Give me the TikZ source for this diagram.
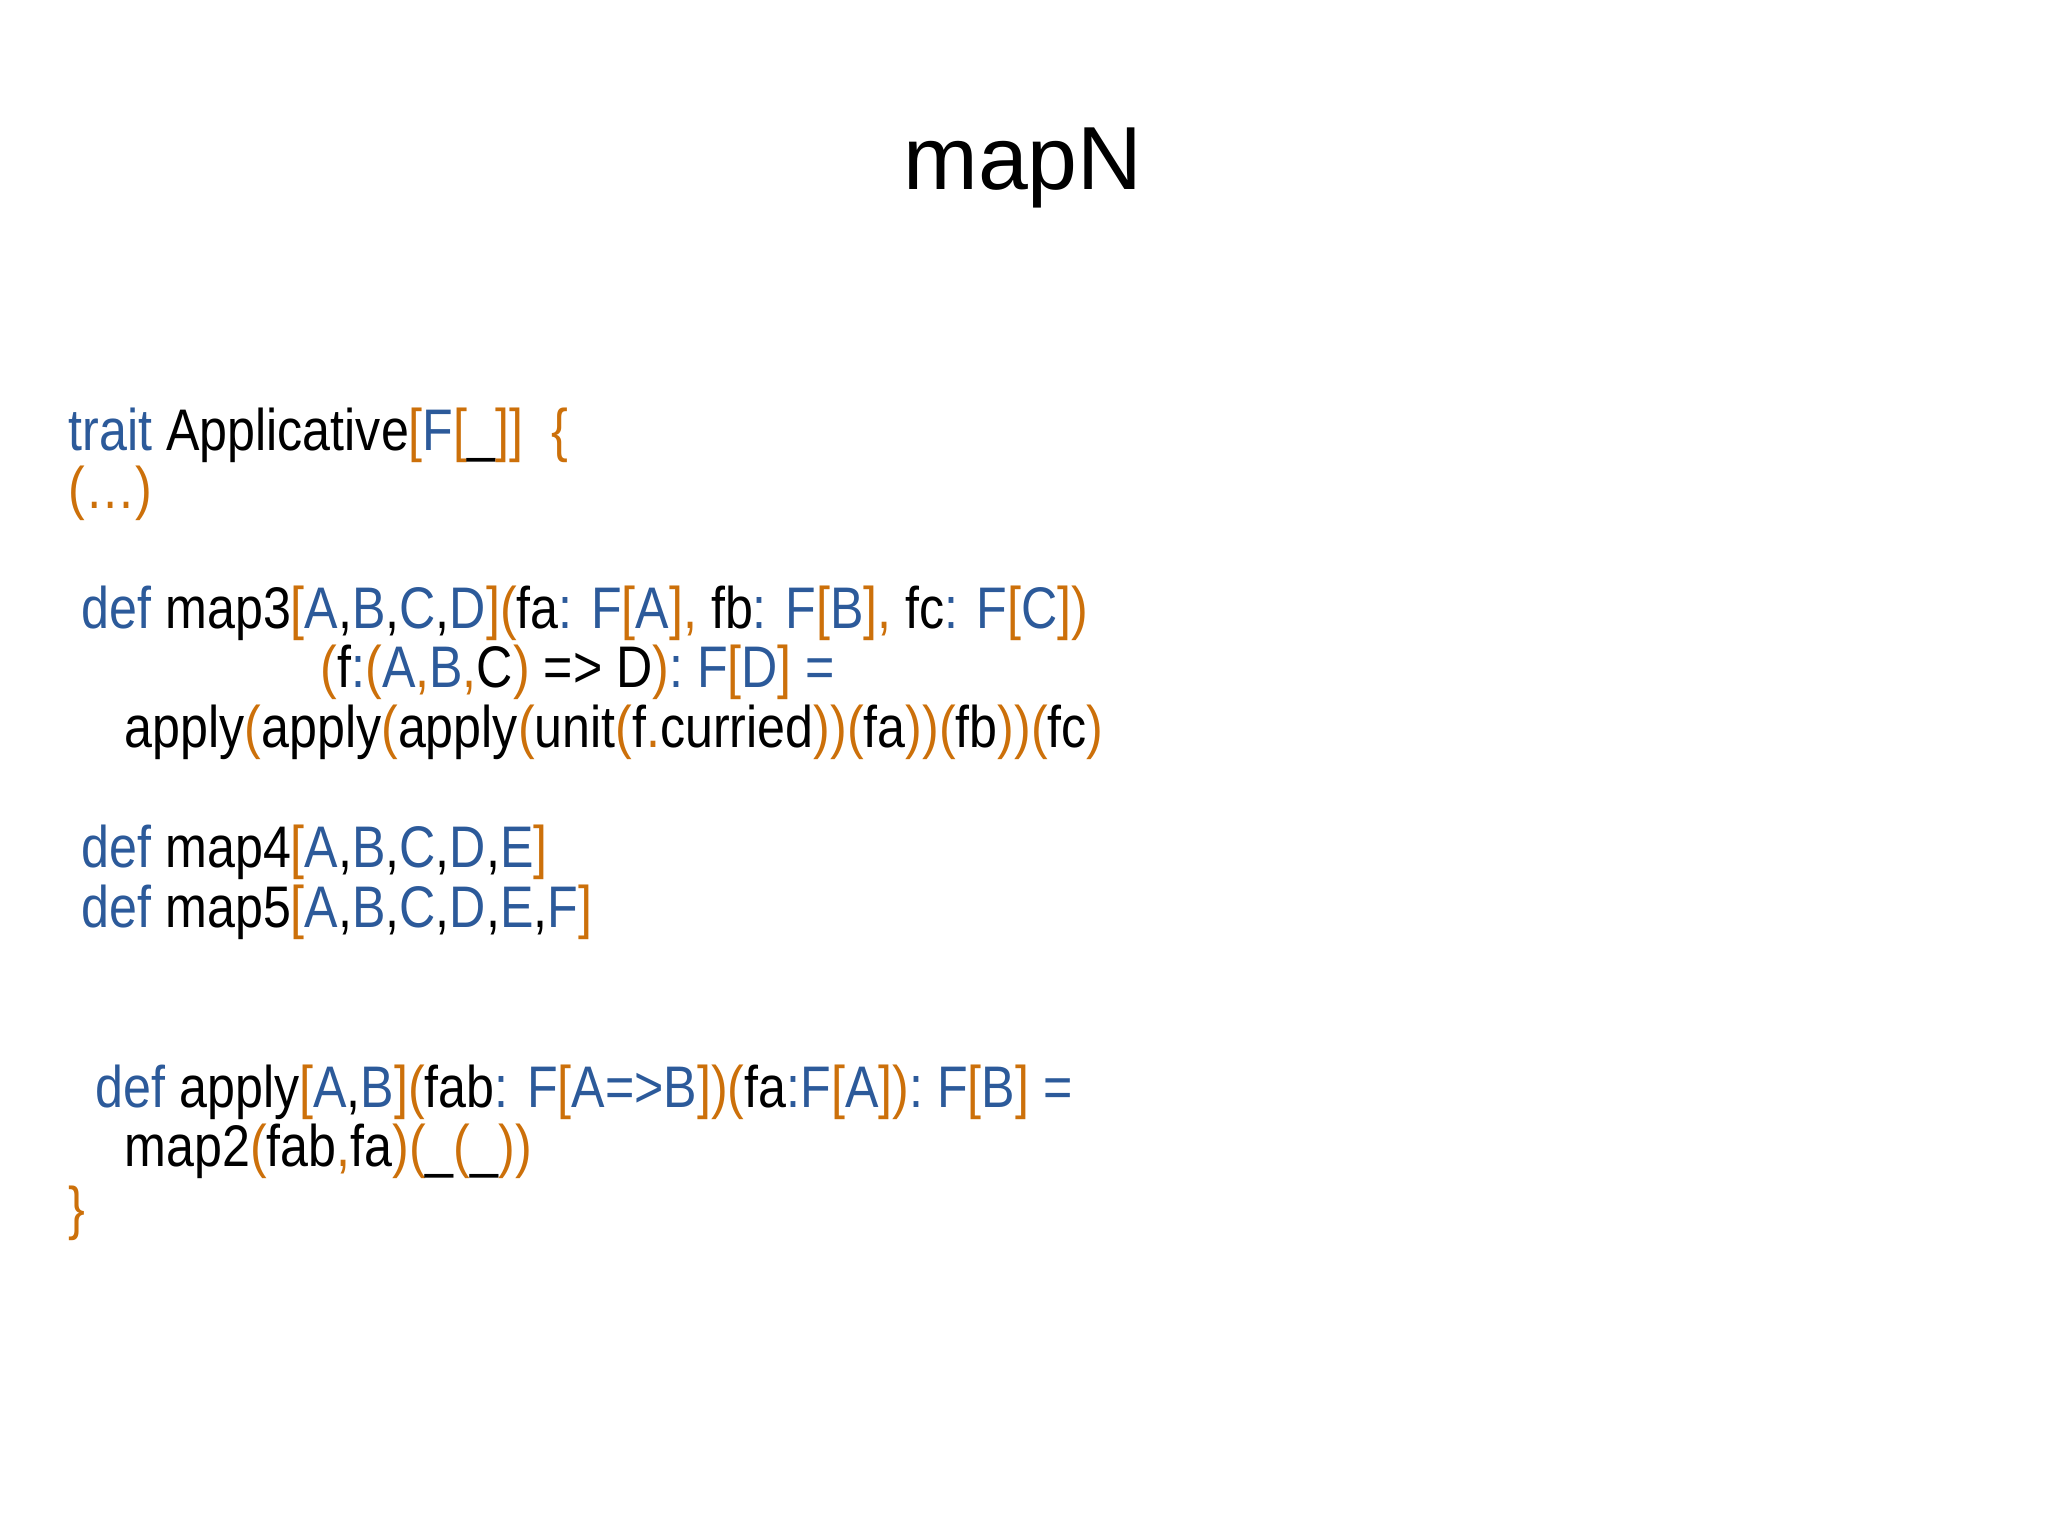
\documentclass[tikz,border=0pt]{standalone}
\usepackage{fontspec}
\setmainfont{Liberation Sans}
\newfontfamily\codefont[FakeStretch=0.855]{Liberation Sans}
\definecolor{kb}{RGB}{44,90,154}
\definecolor{ko}{RGB}{204,112,10}
\newcommand\kwb[1]{\textcolor{kb}{#1}}
\newcommand\kwo[1]{\textcolor{ko}{#1}}
\begin{document}
\begin{tikzpicture}[x=1cm,y=1cm,code/.style={anchor=base west,inner sep=0pt,font=\codefont\fontsize{16.7}{20}\selectfont}]
\useasboundingbox (0,0) rectangle (20.48,-15.36);
\node[anchor=base,inner sep=0pt,font=\fontsize{25.5}{30}\selectfont] (title) at (10.23,-1.90) {mapN};
\node[code] (l1) at (0.68,-4.51) {\kwb{trait} Applicative\kwo{[}\kwb{F}\kwo{[}\_\kwo{]]}\ \ \kwo{\{}};
\node[code] (l2) at (0.68,-5.09) {\kwo{(…)}};
\node[code] (l3) at (0.81,-6.29) {\kwb{def} map3\kwo{[}\kwb{A},\kwb{B},\kwb{C},\kwb{D}\kwo{](}fa\kwb{: F}\kwo{[}\kwb{A}\kwo{], }fb\kwb{: F}\kwo{[}\kwb{B}\kwo{], }fc\kwb{: F}\kwo{[}\kwb{C}\kwo{])}};
\node[code] (l4) at (3.20,-6.88) {\kwo{(}f\kwb{:}\kwo{(}\kwb{A}\kwo{,}\kwb{B}\kwo{,}C\kwo{)} => D\kwo{)}\kwb{: F}\kwo{[}\kwb{D}\kwo{]} \kwb{=}};
\node[code] (l5) at (1.24,-7.47) {apply\kwo{(}apply\kwo{(}apply\kwo{(}unit\kwo{(}f\kwo{.}curried\kwo{))(}fa\kwo{))(}fb\kwo{))(}fc\kwo{)}};
\node[code] (l6) at (0.81,-8.68) {\kwb{def} map4\kwo{[}\kwb{A},\kwb{B},\kwb{C},\kwb{D},\kwb{E}\kwo{]}};
\node[code] (l7) at (0.81,-9.27) {\kwb{def} map5\kwo{[}\kwb{A},\kwb{B},\kwb{C},\kwb{D},\kwb{E},\kwb{F}\kwo{]}};
\node[code] (l8) at (0.95,-11.07) {\kwb{def} apply\kwo{[}\kwb{A},\kwb{B}\kwo{](}fab\kwb{: F}\kwo{[}\kwb{A=>B}\kwo{])(}fa\kwb{:F}\kwo{[}\kwb{A}\kwo{])}\kwb{: F}\kwo{[}\kwb{B}\kwo{]} \kwb{=}};
\node[code] (l9) at (1.24,-11.66) {map2\kwo{(}fab\kwo{,}fa\kwo{)(}\_\kwo{(}\_\kwo{))}};
\node[code] (l10) at (0.68,-12.28) {\kwo{\}}};
\end{tikzpicture}
\end{document}
